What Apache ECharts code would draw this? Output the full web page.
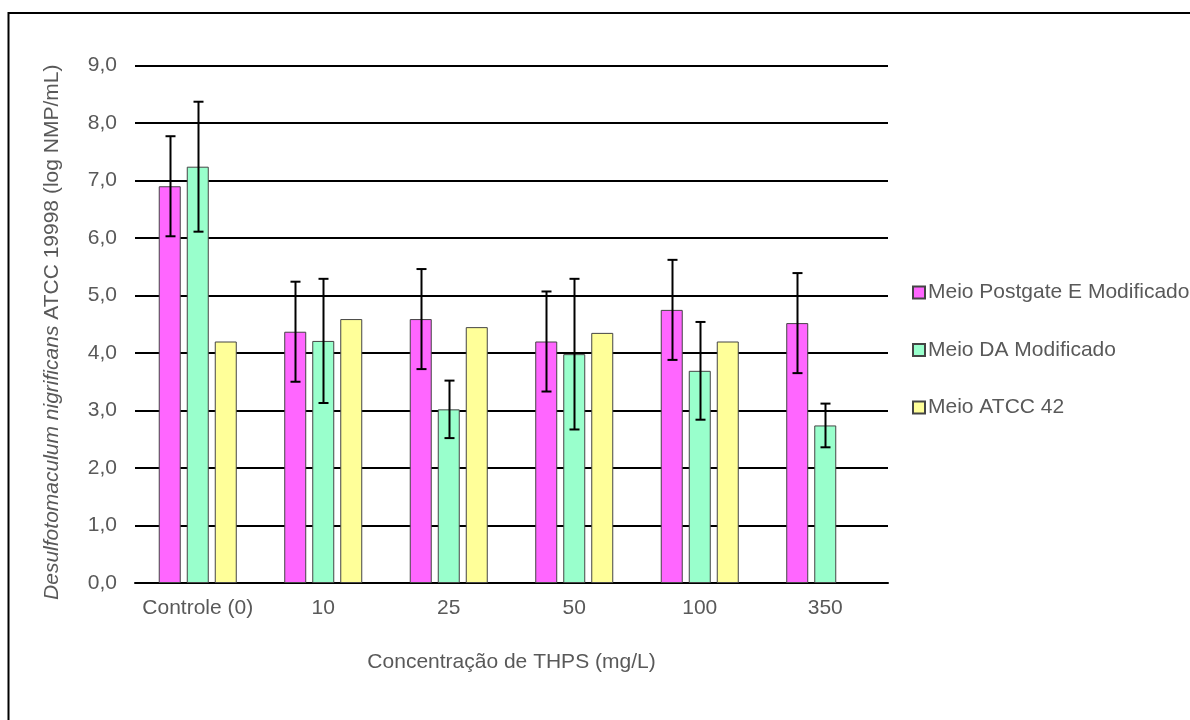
<!DOCTYPE html>
<html>
<head>
<meta charset="utf-8">
<script src="https://cdn.jsdelivr.net/npm/echarts@6/dist/echarts.min.js"></script>
<style>
html,body{margin:0;padding:0;background:#fff;}
#chart{width:1190px;height:720px;}
</style>
</head>
<body>
<div id="chart"></div>
<script>
// ---- data ----
const categories = ['Controle (0)', '10', '25', '50', '100', '350'];
const seriesNames = ['Meio Postgate E Modificado', 'Meio DA Modificado', 'Meio ATCC 42'];
const postgateValues = [6.90, 4.37, 4.59, 4.20, 4.75, 4.52];
const postgateErrors = [0.87, 0.87, 0.87, 0.87, 0.87, 0.87];
const daValues = [7.24, 4.21, 3.02, 3.98, 3.69, 2.74];
const daErrors = [1.13, 1.08, 0.50, 1.31, 0.85, 0.38];
const atccValues = [4.20, 4.59, 4.45, 4.35, 4.20, null];
const yTickLabels = ['0,0', '1,0', '2,0', '3,0', '4,0', '5,0', '6,0', '7,0', '8,0', '9,0'];

// ---- style ----
const FONT = '"Liberation Sans", Arial, sans-serif';
const FS = 21;
const TEXT = '#595959';
const colors = ['#FF66FF', '#99FFCC', '#FFFF99'];
const BAR_W = 22;
const BAR_GAP = 0.273;

function barSeries(name, values, idx) {
  return {
    name: name,
    type: 'bar',
    data: values,
    barWidth: BAR_W,
    barGap: (BAR_GAP * 100) + '%',
    itemStyle: { color: colors[idx], borderColor: '#444', borderWidth: 1 },
    emphasis: { disabled: true },
    z: 2
  };
}

function errSeries(values, errors, idx) {
  const offset = (idx - 1) * BAR_W * (1 + BAR_GAP);
  return {
    type: 'custom',
    z: 10,
    silent: true,
    data: values.map((v, i) => v == null ? null : [i, v - errors[i], v + errors[i]]),
    encode: { x: 0, y: [1, 2] },
    renderItem: function (params, api) {
      const c = api.value(0);
      const x = Math.round(api.coord([c, 0])[0] + offset) + 0.5;
      const yLo = api.coord([c, api.value(1)])[1];
      const yHi = api.coord([c, api.value(2)])[1];
      const hw = 5;
      const st = { stroke: '#000', lineWidth: 2 };
      return {
        type: 'group',
        children: [
          { type: 'line', shape: { x1: x, y1: yLo, x2: x, y2: yHi }, style: st },
          { type: 'line', shape: { x1: x - hw, y1: yHi, x2: x + hw, y2: yHi }, style: st },
          { type: 'line', shape: { x1: x - hw, y1: yLo, x2: x + hw, y2: yLo }, style: st }
        ]
      };
    }
  };
}

const chart = echarts.init(document.getElementById('chart'), null, { renderer: 'canvas' });
chart.setOption({
  animation: false,
  backgroundColor: '#fff',
  textStyle: { fontFamily: FONT },
  graphic: [{
    type: 'rect',
    shape: { x: 8.5, y: 13, width: 1400, height: 900 },
    style: { fill: 'none', stroke: '#000', lineWidth: 2 },
    silent: true,
    z: 100
  }],
  grid: { left: 135, right: 302, top: 65.5, bottom: 137, containLabel: false },
  legend: {
    orient: 'vertical',
    left: 907,
    top: 277,
    data: seriesNames,
    icon: 'rect',
    itemWidth: 12,
    itemHeight: 12,
    itemGap: 36.5,
    textStyle: { color: TEXT, fontSize: FS, fontFamily: FONT, lineHeight: 20, padding: [0, 0, 0, -2] },
    selectedMode: false
  },
  xAxis: {
    type: 'category',
    data: categories,
    axisTick: { show: false },
    axisLine: { lineStyle: { color: '#000', width: 2 } },
    axisLabel: { color: TEXT, fontSize: FS, fontFamily: FONT, margin: 15, interval: 0 },
    name: 'Concentração de THPS (mg/L)',
    nameLocation: 'middle',
    nameGap: 69,
    nameTextStyle: { color: TEXT, fontSize: FS, fontFamily: FONT }
  },
  yAxis: {
    type: 'value',
    min: 0,
    max: 9,
    interval: 1,
    axisLine: { show: false },
    axisTick: { show: false },
    splitLine: { lineStyle: { color: '#000', width: 2 } },
    axisLabel: {
      color: TEXT, fontSize: FS, fontFamily: FONT, margin: 18,
      formatter: function (v) { return yTickLabels[Math.round(v)]; }
    },
    name: '{i|Desulfotomaculum nigrificans} ATCC 19998 (log NMP/mL)',
    nameLocation: 'middle',
    nameRotate: 90,
    nameGap: 72,
    nameTextStyle: {
      color: TEXT, fontSize: FS, fontFamily: FONT, padding: [0, 16, 0, 0],
      rich: { i: { fontStyle: 'italic', color: TEXT, fontSize: FS, fontFamily: FONT } }
    }
  },
  series: [
    barSeries(seriesNames[0], postgateValues, 0),
    barSeries(seriesNames[1], daValues, 1),
    barSeries(seriesNames[2], atccValues, 2),
    errSeries(postgateValues, postgateErrors, 0),
    errSeries(daValues, daErrors, 1)
  ]
});
</script>
</body>
</html>
